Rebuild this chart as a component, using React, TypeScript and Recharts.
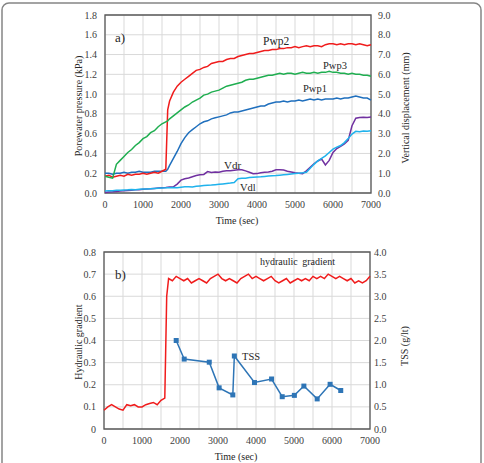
import React from 'react';
import { LineChart, Line, XAxis, YAxis, CartesianGrid, ReferenceArea } from 'recharts';

const FONT = '"Liberation Serif", "Times New Roman", serif';

// Time (sec)
const time = [
  0, 100, 200, 300, 400, 500, 600, 700, 800, 900,
  1000, 1100, 1200, 1300, 1400, 1500, 1600, 1650, 1700, 1800,
  1900, 2000, 2100, 2200, 2300, 2400, 2500, 2600, 2700, 2800,
  2900, 3000, 3100, 3200, 3300, 3400, 3500, 3600, 3700, 3800,
  3900, 4000, 4100, 4200, 4300, 4400, 4500, 4600, 4700, 4800,
  4900, 5000, 5100, 5200, 5300, 5400, 5500, 5600, 5700, 5800,
  5900, 6000, 6100, 6200, 6300, 6400, 6500, 6600, 6700, 6800,
  6900, 7000,
];

// Porewater pressure (kPa)
const pwp2 = [
  0.17, 0.18, 0.16, 0.17, 0.18, 0.17, 0.19, 0.18, 0.19, 0.19,
  0.20, 0.19, 0.20, 0.21, 0.20, 0.22, 0.24, 0.84, 0.93, 1.02,
  1.08, 1.12, 1.15, 1.18, 1.21, 1.24, 1.25, 1.27, 1.28, 1.31,
  1.32, 1.33, 1.33, 1.35, 1.36, 1.36, 1.38, 1.39, 1.40, 1.41,
  1.41, 1.42, 1.43, 1.44, 1.44, 1.45, 1.45, 1.46, 1.46, 1.47,
  1.47, 1.48, 1.47, 1.48, 1.49, 1.48, 1.49, 1.49, 1.48, 1.50,
  1.51, 1.51, 1.50, 1.51, 1.50, 1.51, 1.51, 1.50, 1.51, 1.50,
  1.49, 1.50,
];
const pwp3 = [
  0.17, 0.16, 0.15, 0.29, 0.33, 0.37, 0.41, 0.44, 0.48, 0.51,
  0.55, 0.57, 0.61, 0.63, 0.67, 0.70, 0.72, 0.73, 0.75, 0.78,
  0.81, 0.84, 0.87, 0.89, 0.92, 0.94, 0.96, 0.99, 1.00, 1.02,
  1.03, 1.04, 1.06, 1.08, 1.09, 1.10, 1.11, 1.12, 1.14, 1.15,
  1.15, 1.16, 1.17, 1.18, 1.19, 1.19, 1.20, 1.21, 1.20, 1.21,
  1.21, 1.20, 1.21, 1.22, 1.21, 1.21, 1.22, 1.21, 1.22, 1.22,
  1.23, 1.22, 1.22, 1.21, 1.21, 1.20, 1.21, 1.20, 1.20, 1.19,
  1.19, 1.18,
];
const pwp1 = [
  0.20, 0.20, 0.19, 0.20, 0.20, 0.21, 0.20, 0.21, 0.21, 0.22,
  0.21, 0.21, 0.21, 0.22, 0.22, 0.22, 0.22, 0.24, 0.28, 0.35,
  0.42, 0.50, 0.56, 0.61, 0.64, 0.67, 0.70, 0.72, 0.73, 0.75,
  0.76, 0.77, 0.78, 0.79, 0.81, 0.82, 0.82, 0.83, 0.84, 0.85,
  0.86, 0.87, 0.88, 0.88, 0.90, 0.91, 0.92, 0.92, 0.93, 0.92,
  0.93, 0.93, 0.94, 0.93, 0.94, 0.95, 0.94, 0.95, 0.94, 0.95,
  0.95, 0.95, 0.96, 0.95, 0.96, 0.96, 0.97, 0.98, 0.97, 0.96,
  0.96, 0.94,
];

// Vertical displacement (mm)
const vdr = [
  0.02, 0.05, 0.06, 0.08, 0.10, 0.11, 0.13, 0.14, 0.16, 0.17,
  0.19, 0.20, 0.21, 0.23, 0.25, 0.27, 0.28, 0.29, 0.30, 0.31,
  0.45, 0.65, 0.72, 0.76, 0.82, 0.88, 0.92, 0.94, 1.08, 1.04,
  1.06, 1.05, 1.10, 1.12, 1.13, 1.15, 1.17, 1.18, 1.12, 1.05,
  0.97, 0.98, 1.02, 1.05, 1.06, 1.10, 1.17, 1.18, 1.16, 1.10,
  1.06, 1.02, 1.00, 0.98, 1.12, 1.30, 1.48, 1.62, 1.72, 1.42,
  1.65, 2.05, 2.25, 2.36, 2.48, 2.66, 3.40, 3.78, 3.82, 3.83,
  3.82, 3.84,
];
const vdl = [
  0.10, 0.12, 0.12, 0.14, 0.14, 0.15, 0.16, 0.18, 0.17, 0.19,
  0.20, 0.20, 0.22, 0.23, 0.24, 0.25, 0.26, 0.27, 0.27, 0.28,
  0.27, 0.29, 0.31, 0.32, 0.30, 0.34, 0.36, 0.38, 0.39, 0.40,
  0.42, 0.44, 0.46, 0.48, 0.50, 0.53, 0.72, 0.74, 0.75, 0.78,
  0.80, 0.81, 0.82, 0.84, 0.86, 0.87, 0.88, 0.90, 0.92, 0.94,
  0.96, 0.98, 1.00, 1.02, 1.05, 1.25, 1.45, 1.62, 1.75, 1.88,
  2.05, 2.22, 2.32, 2.40, 2.55, 2.75, 2.98, 3.12, 3.10, 3.14,
  3.12, 3.15,
];

// Hydraulic gradient
const gradient = [
  0.085, 0.10, 0.11, 0.10, 0.09, 0.085, 0.11, 0.105, 0.11, 0.10,
  0.10, 0.11, 0.115, 0.12, 0.11, 0.13, 0.14, 0.60, 0.68, 0.67,
  0.69, 0.68, 0.67, 0.68, 0.66, 0.67, 0.68, 0.67, 0.66, 0.68,
  0.69, 0.70, 0.68, 0.67, 0.68, 0.67, 0.66, 0.68, 0.69, 0.70,
  0.68, 0.69, 0.68, 0.67, 0.68, 0.69, 0.67, 0.66, 0.67, 0.68,
  0.66, 0.67, 0.68, 0.67, 0.68, 0.67, 0.69, 0.68, 0.69, 0.68,
  0.70, 0.69, 0.68, 0.69, 0.68, 0.67, 0.68, 0.66, 0.67, 0.66,
  0.67, 0.69,
];

// TSS (g/lt)
const tssTime = [1900, 2110, 2770, 3030, 3390, 3430, 3960, 4410, 4690, 5010, 5260, 5610, 5950, 6230];
const tss = [2.0, 1.58, 1.51, 0.93, 0.77, 1.65, 1.05, 1.13, 0.73, 0.76, 0.97, 0.68, 1.01, 0.87];

// Ticks
const timeTicks = [0, 500, 1000, 1500, 2000, 2500, 3000, 3500, 4000, 4500, 5000, 5500, 6000, 6500, 7000];
const pressureTicks = [0, 0.2, 0.4, 0.6, 0.8, 1.0, 1.2, 1.4, 1.6, 1.8];
const dispTicks = [0, 1, 2, 3, 4, 5, 6, 7, 8, 9];
const gradientTicks = [0, 0.1, 0.2, 0.3, 0.4, 0.5, 0.6, 0.7, 0.8];
const tssTicks = [0, 0.5, 1.0, 1.5, 2.0, 2.5, 3.0, 3.5, 4.0];

const topRows = time.map((t, i) => ({ t, pwp1: pwp1[i], pwp2: pwp2[i], pwp3: pwp3[i], vdr: vdr[i], vdl: vdl[i] }));
const gradRows = time.map((t, i) => ({ t, g: gradient[i] }));
const tssRows = tssTime.map((t, i) => ({ t, tss: tss[i] }));

const RED = '#f01c1c';
const GREEN = '#1fae50';
const BLUE = '#1f6fbd';
const PURPLE = '#7030a0';
const LIGHT = '#1fb2ec';
const TSSC = '#2e75b6';
const GRID = '#d9d9d9';
const BORDER = '#595959';

const tickStyle = { fill: '#404040', fontSize: 10, fontFamily: FONT, style: { fontFamily: FONT } };
const timeFmt = (v: number) => (v % 1000 === 0 ? String(v) : '');

const SquareDot = (props: any) => {
  const { cx, cy, index } = props;
  if (cx == null || cy == null) return <g key={`d${index}`} />;
  return <rect key={`d${index}`} x={cx - 2.5} y={cy - 2.5} width={5} height={5} fill={TSSC} />;
};

export default function App() {
  return (
    <div style={{ position: 'absolute', left: 0, top: 0, width: 484, height: 463, background: '#fff', overflow: 'hidden', fontFamily: FONT }}>
      <style>{`.recharts-surface text { font-family: ${FONT}; }`}</style>
      <div style={{ position: 'absolute', left: 0, top: 0 }}>
        <LineChart width={484} height={230} data={topRows} margin={{ top: 15, right: 0, bottom: 7, left: 0 }}>
          <CartesianGrid yAxisId="l" stroke={GRID} strokeWidth={1} />
          <XAxis dataKey="t" type="number" domain={[0, 7000]} ticks={timeTicks} interval={0}
            tickFormatter={timeFmt} tick={tickStyle} tickLine={false} tickSize={0} tickMargin={8}
            axisLine={false} height={30} />
          <YAxis yAxisId="l" orientation="left" domain={[0, 1.8]} ticks={pressureTicks} interval={0}
            tickFormatter={(v: number) => v.toFixed(1)} tick={tickStyle} tickLine={false} tickSize={0}
            tickMargin={8} axisLine={false} width={105} />
          <YAxis yAxisId="r" orientation="right" domain={[0, 9]} ticks={dispTicks} interval={0}
            tickFormatter={(v: number) => v.toFixed(1)} tick={tickStyle} tickLine={false} tickSize={0}
            tickMargin={7} axisLine={false} width={113} />
          <ReferenceArea yAxisId="l" x1={0} x2={7000} y1={0} y2={1.8} fill="none" stroke={BORDER} strokeWidth={1.3} ifOverflow="visible" />
          <Line yAxisId="l" dataKey="pwp1" stroke={BLUE} strokeWidth={1.5} dot={false} isAnimationActive={false} />
          <Line yAxisId="l" dataKey="pwp2" stroke={RED} strokeWidth={1.5} dot={false} isAnimationActive={false} />
          <Line yAxisId="l" dataKey="pwp3" stroke={GREEN} strokeWidth={1.5} dot={false} isAnimationActive={false} />
          <Line yAxisId="r" dataKey="vdr" stroke={PURPLE} strokeWidth={1.5} dot={false} isAnimationActive={false} />
          <Line yAxisId="r" dataKey="vdl" stroke={LIGHT} strokeWidth={1.5} dot={false} isAnimationActive={false} />
        </LineChart>
      </div>
      <div style={{ position: 'absolute', left: 0, top: 232 }}>
        <LineChart width={484} height={231} margin={{ top: 20, right: 0, bottom: 4, left: 0 }}>
          <CartesianGrid yAxisId="l" stroke={GRID} strokeWidth={1} />
          <XAxis dataKey="t" type="number" domain={[0, 7000]} ticks={timeTicks} interval={0}
            tickFormatter={timeFmt} tick={tickStyle} tickLine={false} tickSize={0} tickMargin={8}
            axisLine={false} height={30} allowDuplicatedCategory={false} />
          <YAxis yAxisId="l" orientation="left" domain={[0, 0.8]} ticks={gradientTicks} interval={0}
            tickFormatter={(v: number) => (v === 0 ? '0' : v.toFixed(1))} tick={tickStyle} tickLine={false} tickSize={0}
            tickMargin={8} axisLine={false} width={104} />
          <YAxis yAxisId="r" orientation="right" domain={[0, 4]} ticks={tssTicks} interval={0}
            tickFormatter={(v: number) => v.toFixed(1)} tick={tickStyle} tickLine={false} tickSize={0}
            tickMargin={4} axisLine={false} width={114} />
          <ReferenceArea yAxisId="l" x1={0} x2={7000} y1={0} y2={0.8} fill="none" stroke={BORDER} strokeWidth={1.3} ifOverflow="visible" />
          <Line yAxisId="l" data={gradRows} dataKey="g" stroke={RED} strokeWidth={1.5} dot={false} isAnimationActive={false} />
          <Line yAxisId="r" data={tssRows} dataKey="tss" stroke={TSSC} strokeWidth={1.5} dot={SquareDot} isAnimationActive={false} />
        </LineChart>
      </div>
      <svg width={484} height={463} style={{ position: 'absolute', left: 0, top: 0, pointerEvents: 'none', fontFamily: FONT }}
        fill="#262626">
        <rect x={2} y={3} width={479} height={520} rx={7} fill="none" stroke="#858585" strokeWidth={1.5} />
        {/* Top chart annotations */}
        <text x={115} y={42} fontSize={13}>a)</text>
        <text x={263} y={45} fontSize={11.5}>Pwp2</text>
        <text x={323} y={69} fontSize={10.5}>Pwp3</text>
        <text x={303} y={92} fontSize={10.5}>Pwp1</text>
        <text x={224} y={168.5} fontSize={11}>Vdr</text>
        <text x={240} y={191} fontSize={10.5}>Vdl</text>
        <text x={237} y={224} fontSize={10} textAnchor="middle">Time (sec)</text>
        <text x={82} y={106} fontSize={10} textAnchor="middle" transform="rotate(-90 82 106)">Porewater pressure (kPa)</text>
        <text x={409} y={108} fontSize={10} textAnchor="middle" transform="rotate(-90 409 108)">Vertical displacement (mm)</text>
        {/* Bottom chart annotations */}
        <text x={115} y={279} fontSize={13}>b)</text>
        <text x={260} y={264.5} fontSize={10} wordSpacing={2}>hydraulic gradient</text>
        <text x={242} y={360} fontSize={10.5}>TSS</text>
        <text x={236} y={460} fontSize={10} textAnchor="middle">Time (sec)</text>
        <text x={82} y={342} fontSize={10} textAnchor="middle" transform="rotate(-90 82 342)">Hydraulic gradient</text>
        <text x={408} y={346} fontSize={10} textAnchor="middle" transform="rotate(-90 408 346)">TSS (g/lt)</text>
      </svg>
    </div>
  );
}
